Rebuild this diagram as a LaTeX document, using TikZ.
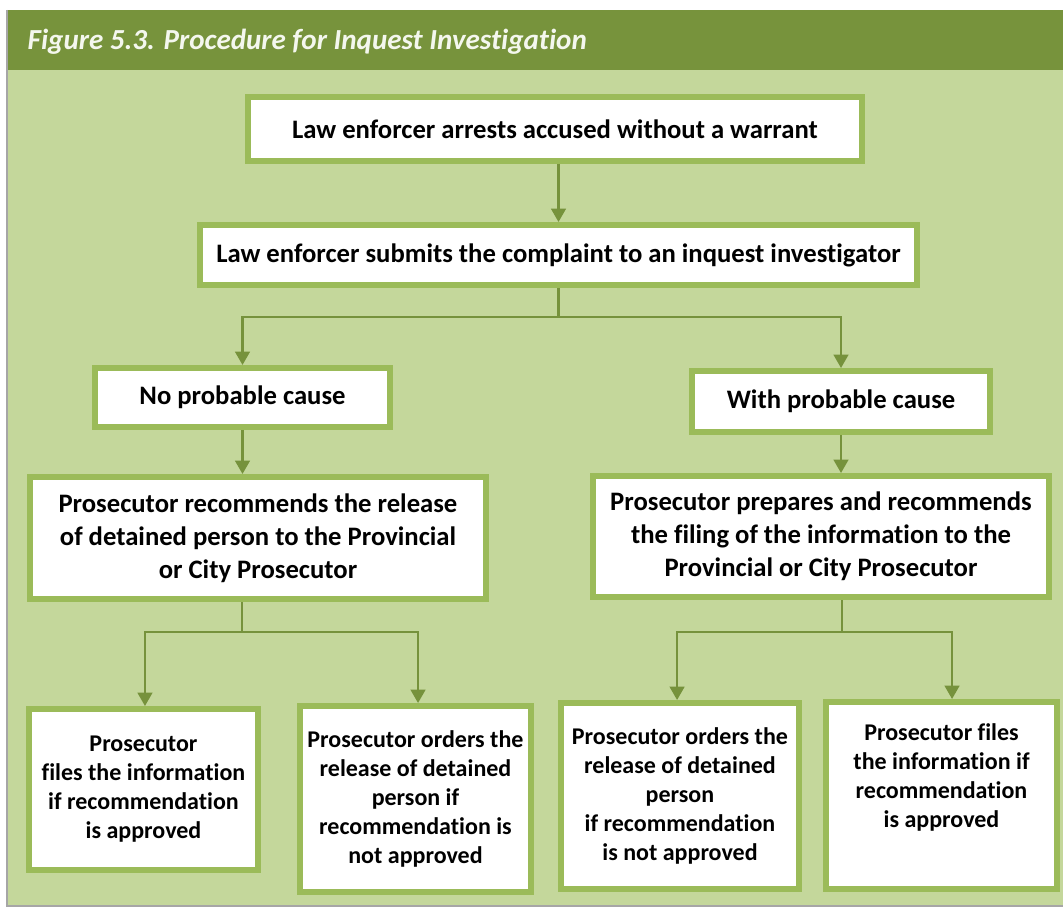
\documentclass[tikz,border=0pt]{standalone}
\usepackage{fontspec}
\setmainfont{Carlito}[Ligatures=NoCommon]
\usetikzlibrary{arrows.meta}
\definecolor{headgreen}{HTML}{77933C}
\definecolor{panelgreen}{HTML}{C4D79B}
\definecolor{boxgreen}{HTML}{9BBB59}
\definecolor{linegreen}{HTML}{76923C}
\definecolor{titlewhite}{HTML}{F4F7EE}
\tikzset{
  flowbox/.style={draw=boxgreen, line width=4.5pt, fill=white, inner sep=0pt, align=center, text=black},
  bigtext/.style={font=\bfseries\fontsize{20}{24.75}\selectfont},
  smalltext/.style={font=\bfseries\fontsize{18}{21.75}\selectfont},
  conn/.style={draw=linegreen, line width=1.7pt},
  arr/.style={conn, -{Triangle[width=11pt,length=10pt]}}
}
\begin{document}
\begin{tikzpicture}[x=0.75pt,y=-0.75pt]
\useasboundingbox (0,0) rectangle (1063,909);
\fill[white] (0,0) rectangle (1063,909);
% panel and header
\fill[panelgreen] (7,70) rectangle (1063,906);
\fill[headgreen] (7,10) rectangle (1063,70);
\draw[black!35, line width=0.8pt] (7,10) -- (7,906) -- (1063,906);
\node[anchor=base west, text=titlewhite, font=\bfseries\itshape\fontsize{21.8}{26}\selectfont] (title) at (23,50) {Figure 5.3. Procedure for Inquest Investigation};

% boxes
\node[flowbox, bigtext, minimum width=460.5pt, minimum height=48pt] (B1) at (555,129) {Law enforcer arrests accused without a warrant};
\node[flowbox, bigtext, minimum width=537.75pt, minimum height=45pt] (B2) at (558.5,255) {Law enforcer submits the complaint to an inquest investigator};
\node[flowbox, bigtext, minimum width=221.25pt, minimum height=44.25pt] (B3) at (242.5,397.5) {No probable cause};
\node[flowbox, bigtext, minimum width=223.5pt, minimum height=45.75pt] (B4) at (841,401.5) {With probable cause};
\node[flowbox, bigtext, minimum width=342pt, minimum height=91.5pt] (B5) at (258,538) {Prosecutor recommends the release\\of detained person to the Provincial\\or City Prosecutor};
\node[flowbox, bigtext, minimum width=342pt, minimum height=90.75pt] (B6) at (821,536.5) {Prosecutor prepares and recommends\\the filing of the information to the\\Provincial or City Prosecutor};
\node[flowbox, smalltext, minimum width=171.75pt, minimum height=120.75pt] (B7) at (143.5,789.5) {Prosecutor\\files the information\\if recommendation\\is approved};
\node[flowbox, smalltext, minimum width=173.25pt, minimum height=139.5pt] (B8) at (415.5,799) {Prosecutor orders the\\release of detained\\person if\\recommendation is\\not approved};
\node[flowbox, smalltext, minimum width=178.5pt, minimum height=139.5pt] (B9) at (680,796) {Prosecutor orders the\\release of detained\\person\\if recommendation\\is not approved};
\node[flowbox, smalltext, minimum width=173.25pt, minimum height=140.25pt] (B10) at (941.5,795.5) {Prosecutor files\\the information if\\recommendation\\is approved\rule[-30pt]{0pt}{30pt}};

% connectors
\draw[arr] (B1.south -| B2.north) -- (B2.north);
\coordinate (j1) at (558.5,317);
\draw[conn] (B2.south) -- (j1);
\draw[arr] (j1) -| (B3.north);
\draw[arr] (j1) -| (B4.north);
\draw[arr] (B3.south) -- (B3.south |- B5.north);
\draw[arr] (B4.south) -- (B4.south |- B6.north);
\coordinate (j2) at (242,632);
\draw[conn] (j2 |- B5.south) -- (j2);
\draw[arr] (j2) -| ([xshift=1.1pt]B7.north);
\draw[arr] (j2) -| ([xshift=1.9pt]B8.north);
\coordinate (j3) at (842,632);
\draw[conn] (j3 |- B6.south) -- (j3);
\draw[arr] (j3) -| ([xshift=-2.2pt]B9.north);
\draw[arr] (j3) -| ([xshift=7.9pt]B10.north);
\end{tikzpicture}
\end{document}
